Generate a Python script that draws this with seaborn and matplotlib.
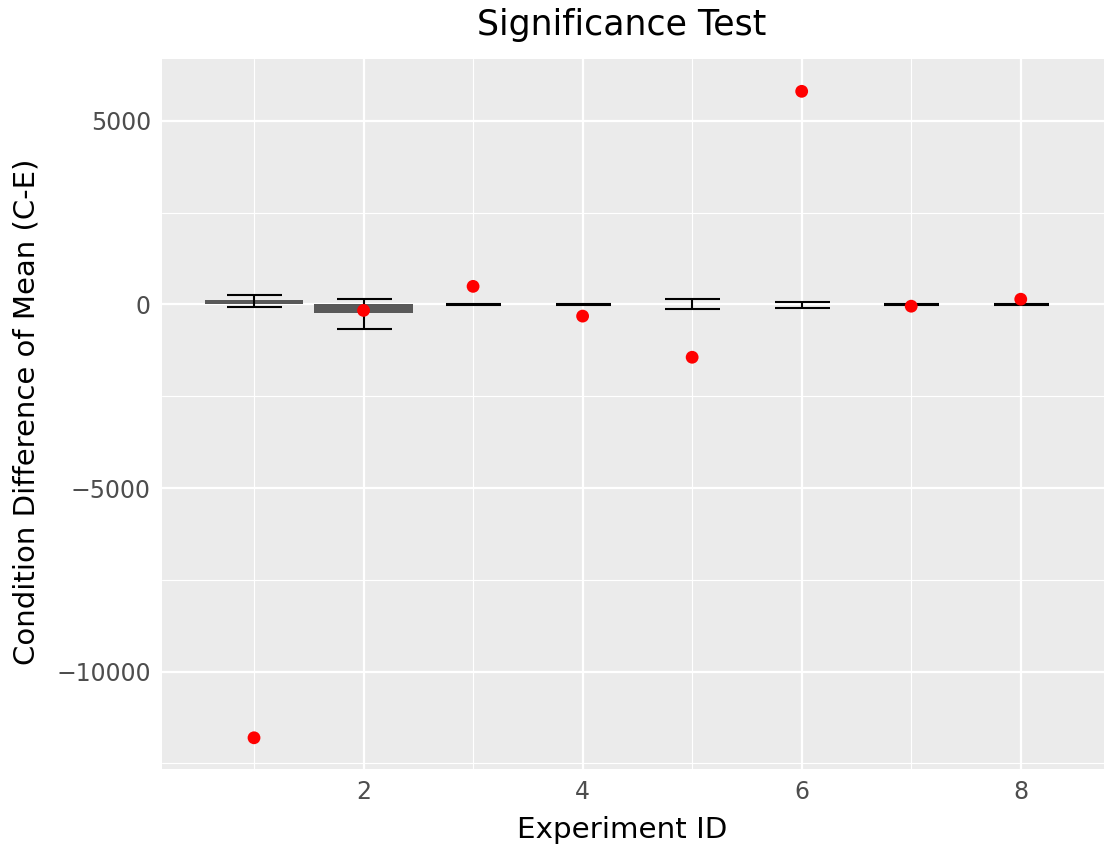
import matplotlib
matplotlib.use("Agg")
import matplotlib.pyplot as plt
import seaborn as sns
import numpy as np
import pandas as pd

# Data
experiment_id = [1, 2, 3, 4, 5, 6, 7, 8]
mean_diff = [130, -240, 0, 0, 15, 10, 0, 0]
ci_low = [-70, -660, -15, -15, -130, -90, -25, -15]
ci_high = [250, 140, 15, 15, 140, 75, 20, 15]
observed = [-11800, -165, 490, -320, -1440, 5800, -50, 140]

df = pd.DataFrame({"id": experiment_id, "mean": mean_diff,
                   "lo": ci_low, "hi": ci_high, "obs": observed})

sns.set_theme(style="darkgrid")
plt.rcParams['font.family'] = ['DejaVu Sans']

fig = plt.figure(figsize=(11.04, 8.52), dpi=100)
ax = fig.add_axes([162/1104, 1-769/852, (1104-162)/1104, (769-59)/852])
ax.set_facecolor("#EBEBEB")

sns.barplot(data=df, x="id", y="mean", native_scale=True, width=0.9,
            color="#595959", saturation=1, ax=ax, errorbar=None, zorder=3)
for p in ax.patches:
    p.set_edgecolor("none")

ax.errorbar(df["id"], (df["lo"] + df["hi"]) / 2,
            yerr=[(df["hi"] - df["lo"]) / 2, (df["hi"] - df["lo"]) / 2],
            fmt="none", ecolor="black", elinewidth=1.5, capsize=19.8,
            capthick=1.5, zorder=4)

sns.scatterplot(data=df, x="id", y="obs", color="red", s=85, edgecolor="none",
                ax=ax, zorder=5)

ax.set_xlim(0.16, 8.76)
ax.set_ylim(-12650, 6680)
ax.set_xticks([2, 4, 6, 8])
ax.set_xticks([1, 3, 5, 7], minor=True)
ax.set_yticks([-10000, -5000, 0, 5000])
ax.set_yticks([-12500, -7500, -2500, 2500], minor=True)
ax.set_yticklabels(["\u221210000", "\u22125000", "0", "5000"])
ax.grid(which="major", color="white", linewidth=1.6)
ax.grid(which="minor", color="white", linewidth=0.8)
ax.set_axisbelow(True)
for s in ax.spines.values():
    s.set_visible(False)
ax.tick_params(axis="both", which="major", length=5, width=1.4, color="#333333",
               labelsize=17, labelcolor="#4D4D4D", pad=3)
ax.tick_params(axis="both", which="minor", length=0)
ax.set_xlabel("")
ax.set_ylabel("")

fig.text(622/1104, 1-830/852, "Experiment ID", ha="center", va="center",
         fontsize=21.2, color="black")
fig.text(27/1104, 1-412/852, "Condition Difference of Mean (C-E)", ha="center",
         va="center", rotation=90, fontsize=21, color="black")
fig.text(622/1104, 1-25/852, "Significance Test", ha="center", va="center",
         fontsize=25, color="black")

fig.savefig("out.png", dpi=100)
